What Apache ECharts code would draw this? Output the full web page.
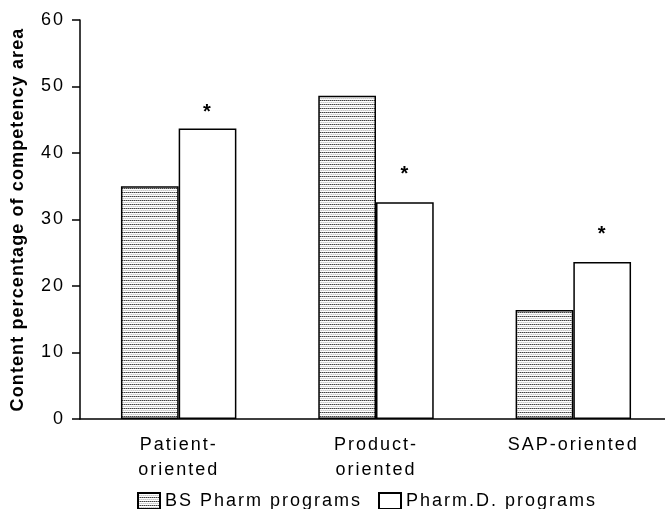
<!DOCTYPE html>
<html>
<head>
<meta charset="utf-8">
<script src="https://cdn.jsdelivr.net/npm/echarts@6/dist/echarts.min.js"></script>
<style>
  html, body { margin: 0; padding: 0; background: #fff; overflow: hidden; }
  #chart { width: 690px; height: 509px; }
</style>
</head>
<body>
<div id="chart"></div>
<script>
// Competency areas and their content percentages
const categories = ['Patient-\noriented', 'Product-\noriented', 'SAP-oriented'];
const bsPharm = [35.0, 48.6, 16.4];
const pharmD = [43.7, 32.6, 23.6];
const significance = ['*', '*', '*'];
const seriesNames = ['BS Pharm programs', 'Pharm.D. programs'];
const yTicks = { min: 0, max: 60, step: 10 };

// Tracked (letter-spaced) lettering for all chart text
(function () {
  const proto = CanvasRenderingContext2D.prototype;
  if (!('letterSpacing' in proto)) return;
  const spacingFor = (f) => /bold/.test(f) ? '1.1px' : (/18px/.test(f) ? '2px' : '0px');
  ['fillText', 'strokeText', 'measureText'].forEach((fn) => {
    const orig = proto[fn];
    proto[fn] = function () {
      this.letterSpacing = spacingFor(this.font);
      return orig.apply(this, arguments);
    };
  });
})();

// Fine horizontal stipple used to fill the BS Pharm bars
function makeHatch() {
  const c = document.createElement('canvas');
  c.width = 4; c.height = 4;
  const g = c.getContext('2d');
  g.fillStyle = '#ffffff';
  g.fillRect(0, 0, 4, 4);
  g.fillStyle = '#444444'; g.fillRect(0, 0, 1, 1); g.fillRect(2, 0, 1, 1);
  g.fillStyle = '#9a9a9a'; g.fillRect(1, 0, 1, 1); g.fillRect(3, 0, 1, 1);
  g.fillStyle = '#c8c8c8'; g.fillRect(1, 2, 1, 1); g.fillRect(3, 2, 1, 1);
  g.fillStyle = '#e0e0e0'; g.fillRect(0, 2, 1, 1); g.fillRect(2, 2, 1, 1);
  return c;
}
const hatch = { image: makeHatch(), repeat: 'repeat' };

const font = '"Liberation Sans", Arial, sans-serif';
const legendText = { fontFamily: font, fontSize: 18, color: '#000' };
const starGap = [5, 17, 17];

const chart = echarts.init(document.getElementById('chart'), null, { renderer: 'canvas' });

chart.setOption({
  animation: false,
  backgroundColor: '#ffffff',
  grid: { left: 80, top: 20, width: 592, height: 399, containLabel: false },
  legend: [
    {
      left: 132, top: 486, icon: 'rect',
      itemWidth: 22, itemHeight: 16,
      textStyle: legendText,
      data: [seriesNames[0]]
    },
    {
      left: 373, top: 486, icon: 'rect',
      itemWidth: 22, itemHeight: 16,
      textStyle: legendText,
      data: [seriesNames[1]]
    }
  ],
  xAxis: {
    type: 'category',
    data: categories,
    axisLine: { lineStyle: { color: '#000', width: 1.5 } },
    axisTick: { length: 8, lineStyle: { color: '#000', width: 1.5 } },
    axisLabel: { fontFamily: font, fontSize: 18, color: '#000', lineHeight: 25, margin: 14 }
  },
  yAxis: {
    type: 'value',
    min: yTicks.min, max: yTicks.max, interval: yTicks.step,
    name: 'Content percentage of competency area',
    nameLocation: 'middle', nameGap: 52,
    nameTextStyle: { fontFamily: font, fontSize: 18, fontWeight: 'bold', color: '#000' },
    axisLine: { show: true, lineStyle: { color: '#000', width: 1.5 } },
    axisTick: { show: true, length: 8, lineStyle: { color: '#000', width: 1.5 } },
    axisLabel: { fontFamily: font, fontSize: 18, color: '#000', margin: 15 },
    splitLine: { show: false }
  },
  series: [
    {
      name: seriesNames[0],
      type: 'bar',
      data: bsPharm,
      barGap: '0%',
      barCategoryGap: '41.5%',
      itemStyle: { color: hatch, borderColor: '#000', borderWidth: 1.5 }
    },
    {
      name: seriesNames[1],
      type: 'bar',
      data: pharmD.map((v, i) => ({
        value: v,
        label: { distance: starGap[i] }
      })),
      itemStyle: { color: '#ffffff', borderColor: '#000', borderWidth: 1.5 },
      label: {
        show: true, position: 'top',
        formatter: (p) => significance[p.dataIndex],
        fontFamily: font, fontSize: 20, fontWeight: 'bold', color: '#000'
      }
    }
  ]
});
</script>
</body>
</html>
